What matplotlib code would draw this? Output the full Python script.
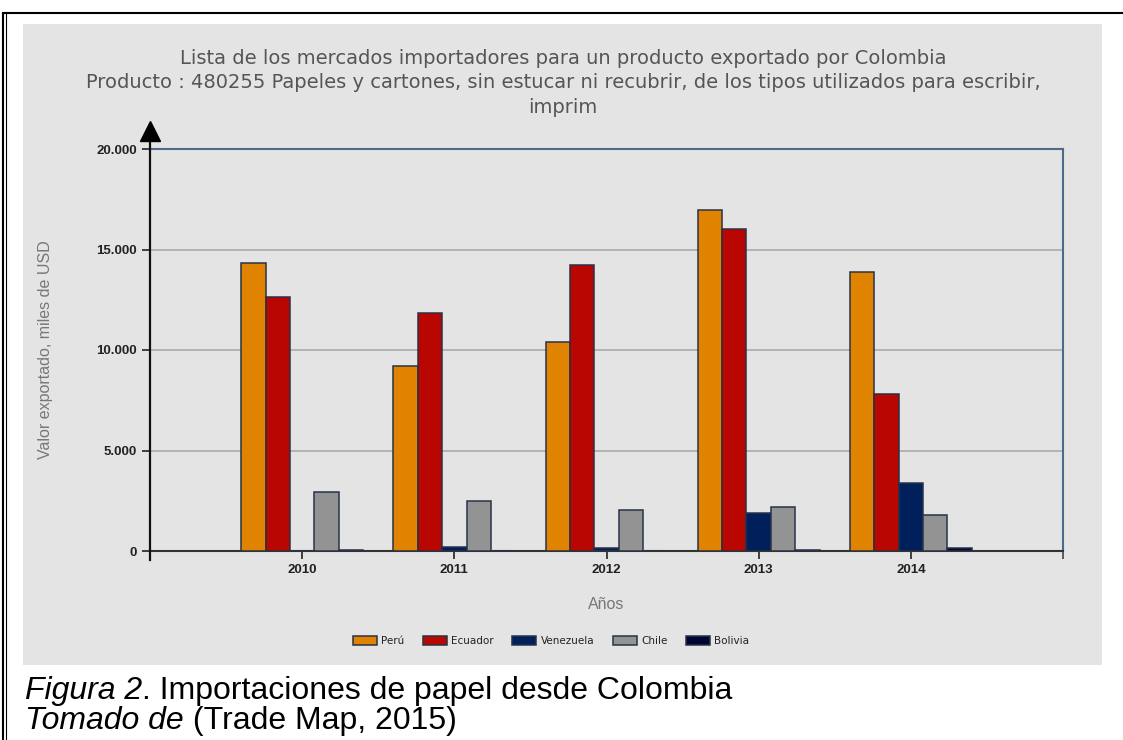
import matplotlib
matplotlib.use('Agg')
import matplotlib.pyplot as plt
from matplotlib.patches import Rectangle
from matplotlib.lines import Line2D
import numpy as np

years = [2010, 2011, 2012, 2013, 2014]
paises = ['Perú', 'Ecuador', 'Venezuela', 'Chile', 'Bolivia']
peru = [14310, 9200, 10410, 16970, 13880]
ecuador = [12620, 11860, 14230, 16000, 7800]
venezuela = [20, 180, 130, 1870, 3400]
chile = [2950, 2490, 2040, 2200, 1780]
bolivia = [40, 0, 0, 60, 130]
colores = ['#E08300', '#B90600', '#001F5B', '#939393', '#000531']
y_ticks = [0, 5000, 10000, 15000, 20000]
y_labels = ['0', '5.000', '10.000', '15.000', '20.000']

W, H = 1123, 740
fig = plt.figure(figsize=(W / 100, H / 100), dpi=100)
fig.patch.set_facecolor('white')

# gray panel behind the chart
fig.add_artist(Rectangle((23 / W, 1 - 665 / H), 1079 / W, 641 / H,
                         transform=fig.transFigure, facecolor='#E4E4E4',
                         edgecolor='none', zorder=0))
# black frame lines of the document
fig.add_artist(Line2D([3 / W, 1], [1 - 13 / H, 1 - 13 / H], transform=fig.transFigure, color='black', lw=1.5))
fig.add_artist(Line2D([3 / W, 3 / W], [0, 1 - 13 / H], transform=fig.transFigure, color='black', lw=1.5))
fig.add_artist(Line2D([6 / W, 6 / W], [0, 1 - 13 / H], transform=fig.transFigure, color='black', lw=0.8))

ax = fig.add_axes([150 / W, 1 - 551 / H, 913 / W, 402 / H])
ax.set_facecolor('#E4E4E4')

series = [peru, ecuador, venezuela, chile, bolivia]
ancho = 0.16
x = np.array(years)
for i, (vals, nombre, col) in enumerate(zip(series, paises, colores)):
    ax.bar(x + (i - 2) * ancho, vals, width=ancho, color=col,
           edgecolor='#27324A', linewidth=1.1, label=nombre, zorder=3)

ax.set_xlim(2009, 2015)
ax.set_ylim(0, 20000)
ax.set_yticks(y_ticks)
ax.set_yticklabels(y_labels)
ax.set_xticks(years)
ax.set_xticklabels([str(y) for y in years])
ax.set_xticks([2015], minor=True)
ax.tick_params(axis='both', labelsize=9.5, colors='#222222', length=6, width=1.2)
ax.tick_params(axis='x', which='minor', length=6, width=1.2, color='#444444')
for lab in ax.get_xticklabels() + ax.get_yticklabels():
    lab.set_fontweight('bold')
    lab.set_fontfamily('Liberation Sans')

ax.grid(axis='y', color='#ABABAB', linewidth=1.2, zorder=1)
ax.set_axisbelow(True)

ax.spines['left'].set_visible(False)
ax.spines['bottom'].set_color('#333333')
ax.spines['bottom'].set_linewidth(1.5)
ax.spines['top'].set_color('#4F6A8A')
ax.spines['right'].set_color('#4F6A8A')
ax.spines['top'].set_linewidth(1.5)
ax.spines['right'].set_linewidth(1.5)

# y axis with arrow
ax.plot([0, 0], [-0.022, 1.025], transform=ax.transAxes, color='#111111',
        lw=1.6, clip_on=False, zorder=5)
ax.plot([0], [1.045], transform=ax.transAxes, marker='^', markersize=15,
        color='black', clip_on=False, zorder=6)

ax.set_ylabel('Valor exportado, miles de USD', fontsize=11.5, color='#777777',
              family='Liberation Sans', labelpad=31)
ax.set_xlabel('Años', fontsize=11.5, color='#777777', family='Liberation Sans', labelpad=15)

fig.text(563 / W, 1 - 83 / H,
         'Lista de los mercados importadores para un producto exportado por Colombia\n'
         'Producto : 480255 Papeles y cartones, sin estucar ni recubrir, de los tipos utilizados para escribir,\n'
         'imprim',
         ha='center', va='center', fontsize=14, color='#555555', linespacing=1.35,
         family='DejaVu Sans')

leg = fig.legend(loc='center', bbox_to_anchor=(551 / W, 1 - 641 / H), ncol=5,
                 frameon=False, fontsize=7.5, handlelength=2.3, handleheight=0.9,
                 columnspacing=1.8, handletextpad=0.4)
for t in leg.get_texts():
    t.set_color('#222222')

t1 = fig.text(25 / W, 1 - 699 / H, 'Figura 2', fontsize=23, style='italic',
              family='Liberation Sans', va='baseline')
fig.text(25 / W, 1 - 729 / H, 'Tomado de', fontsize=23, style='italic',
         family='Liberation Sans', va='baseline')
ax.annotate('. Importaciones de papel desde Colombia', xy=(1, 0), xycoords=t1,
            fontsize=23, family='Liberation Sans', va='bottom', ha='left',
            annotation_clip=False)
t2 = fig.texts[-1]
ax.annotate(' (Trade Map, 2015)', xy=(1, 0), xycoords=t2,
            fontsize=23, family='Liberation Sans', va='bottom', ha='left',
            annotation_clip=False)

fig.savefig('out.png', dpi=100)
